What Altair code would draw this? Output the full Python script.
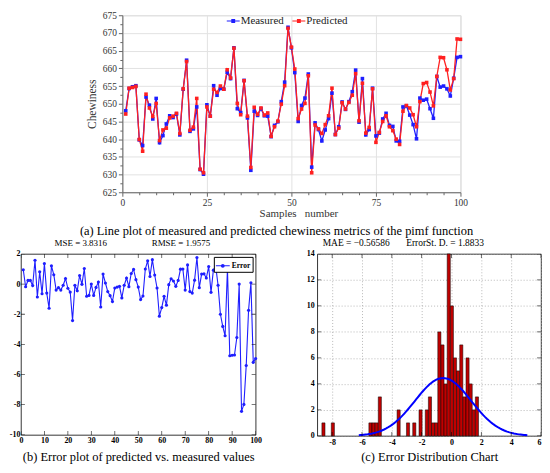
import altair as alt
import pandas as pd

# ---------------- data ----------------
samples = list(range(1, 101))
measured = [648.0, 654.3, 654.8, 655.1, 639.8, 638.2, 651.9, 649.6, 645.7, 651.5,
            639.0, 641.0, 644.3, 646.6, 646.1, 647.1, 641.2, 654.1, 662.3, 642.2,
            642.9, 649.1, 631.4, 630.1, 649.7, 646.5, 655.1, 652.4, 654.3, 654.1,
            658.9, 657.1, 665.8, 648.6, 647.5, 656.6, 646.0, 631.2, 647.9, 646.7,
            648.6, 646.6, 646.5, 640.7, 643.9, 644.9, 650.6, 656.1, 671.6, 665.8,
            658.8, 645.0, 649.5, 651.6, 658.4, 632.1, 644.6, 642.7, 639.5, 642.6,
            645.8, 653.0, 641.3, 643.5, 650.5, 648.4, 650.6, 653.4, 659.5, 644.8,
            657.1, 641.2, 642.7, 654.4, 640.9, 641.7, 645.7, 647.3, 643.9, 643.6,
            639.5, 639.4, 649.1, 649.4, 646.8, 644.1, 640.1, 651.6, 651.0, 651.3,
            648.6, 645.9, 657.7, 654.7, 655.0, 654.2, 652.2, 657.2, 663.1, 663.3]
predicted = [647.1, 654.4, 654.6, 654.9, 639.9, 636.6, 652.7, 648.8, 646.4, 650.1,
             639.6, 642.6, 643.1, 646.0, 646.5, 647.3, 641.6, 654.2, 661.9, 642.5,
             643.4, 651.5, 631.5, 630.5, 649.1, 646.5, 654.1, 653.2, 655.0, 654.1,
             659.6, 657.3, 665.7, 650.1, 646.9, 656.5, 646.5, 632.0, 649.0, 647.0,
             648.8, 646.8, 647.4, 640.8, 643.5, 645.1, 649.9, 655.1, 671.3, 666.0,
             659.8, 645.8, 648.5, 650.1, 657.9, 630.5, 644.0, 642.9, 641.6, 644.1,
             646.6, 654.4, 641.3, 643.1, 650.3, 648.5, 650.4, 652.4, 658.5, 645.2,
             655.8, 641.7, 643.3, 654.2, 639.1, 641.9, 645.0, 646.6, 643.5, 642.4,
             640.0, 638.5, 647.9, 649.5, 648.8, 646.9, 643.5, 650.6, 655.7, 656.0,
             653.3, 649.4, 657.7, 663.1, 663.0, 659.6, 653.9, 657.1, 668.3, 668.2]
error = [0.95, -0.18, 0.24, 0.24, -0.10, 1.58, -0.86, 0.81, -0.64, 1.36,
         -0.60, -1.60, 1.21, 0.62, -0.40, -0.24, -0.40, -0.08, 0.37, -0.28,
         -0.53, -2.42, -0.08, -0.44, 0.57, -0.02, 1.03, -0.81, -0.75, 0.00,
         -0.75, -0.22, 0.13, -1.52, 0.66, 0.07, -0.50, -0.77, -1.16, -0.26,
         -0.20, -0.15, -0.92, -0.08, 0.40, -0.17, 0.70, 0.97, 0.29, -0.20,
         -1.03, -0.79, 1.00, 1.54, 0.50, 1.62, 0.60, -0.26, -2.13, -1.56,
         -0.81, -1.40, -0.04, 0.35, 0.20, -0.15, 0.24, 0.99, 1.00, -0.40,
         1.27, -0.50, -0.60, 0.26, 1.76, -0.24, 0.66, 0.68, 0.40, 1.16,
         -0.55, 0.92, 1.19, -0.08, -2.00, -2.81, -3.43, 1.03, -4.75, -4.72,
         -4.70, -3.54, 0.00, -8.44, -7.98, -5.40, -1.74, 0.09, -5.19, -4.94]
hist_counts = [1, 0, 0, 1, 0, 0, 0, 0, 0, 0,
               0, 0, 0, 0, 0, 1, 1, 1, 3, 0,
               0, 0, 0, 0, 2, 0, 0, 1, 0, 1,
               0, 2, 0, 2, 3, 1, 1, 8, 7, 4,
               14, 10, 6, 5, 7, 3, 6, 4, 2, 3]
hist_lo = -8.69
hist_width = 0.21
err_mean = -0.56586
err_sd = 1.8833
n_samples = 100
mse_text = "MSE = 3.8316"
rmse_text = "RMSE = 1.9575"
mae_text = "MAE = \u22120.56586"
sd_text = "ErrorSt. D. = 1.8833"

x_ticks_a = list(range(0, 101, 5))
y_ticks_a = [625 + 2.5 * i for i in range(21)]
x_ticks_b = list(range(0, 101, 10))
y_ticks_b = list(range(-10, 3, 2))
x_ticks_c = list(range(-8, 7, 2))
y_ticks_c = list(range(0, 15, 2))

caption_a = "(a) Line plot of measured and predicted chewiness metrics of the pimf function"
caption_b = "(b) Error plot of predicted vs. measured values"
caption_c = "(c) Error Distribution Chart"

# ---------------- style ----------------
SERIF = "Liberation Serif"
BLUE = "#1e1eff"
RED = "#ff2020"
BAR_RED = "#c00000"
NB = "\u00a0"
minus_expr = "datum.value < 0 ? '-' + abs(datum.value) : datum.label"
IND = dict(color="independent")

# ---------------- (a) ----------------
df_a = pd.DataFrame({
    "Sample": samples + samples,
    "Value": measured + predicted,
    "Series": ["Measured"] * len(samples) + ["Predicted"] * len(samples),
})

axis_a_x = alt.Axis(
    values=x_ticks_a, labelExpr="datum.value % 25 === 0 ? datum.label : ''",
    labelOverlap=False, labelFlush=False,
    grid=True, gridColor="#e2e2e2",
    gridOpacity={"condition": {"test": "datum.value % 25 === 0", "value": 1}, "value": 0},
    tickSize={"condition": {"test": "datum.value % 25 === 0", "value": 4}, "value": 2.5},
    tickColor="#666", domainColor="#666",
    labelFont=SERIF, labelFontSize=9.5, labelColor="#333", labelPadding=1,
    title="Samples" + NB * 3 + "number", titleFont=SERIF, titleFontSize=11,
    titleFontWeight="normal", titleColor="#333", titlePadding=1, titleX=177,
)
axis_a_y = alt.Axis(
    values=y_ticks_a, labelExpr="datum.value % 5 === 0 ? datum.label : ''",
    labelOverlap=False, labelFlush=False,
    grid=True, gridColor="#e2e2e2",
    gridOpacity={"condition": {"test": "datum.value % 5 === 0", "value": 1}, "value": 0},
    tickSize={"condition": {"test": "datum.value % 5 === 0", "value": 4}, "value": 2.5},
    tickColor="#666", domainColor="#666",
    labelFont=SERIF, labelFontSize=9.5, labelColor="#333", labelPadding=2,
    title="Chewiness", titleFont=SERIF, titleFontSize=11.5,
    titleFontWeight="normal", titleColor="#333", titlePadding=5,
)
sc_a = alt.Scale(domain=["Measured", "Predicted"], range=[BLUE, RED])
xa = alt.X("Sample:Q", scale=alt.Scale(domain=[0, 100], nice=False), axis=axis_a_x)
ya = alt.Y("Value:Q", scale=alt.Scale(domain=[625, 675], nice=False, zero=False), axis=axis_a_y)

legend_a = alt.Legend(
    title=None, orient="none", direction="horizontal", legendX=105, legendY=-1,
    symbolType="M-1,-0.07H1V0.07H-1Z M-0.3,-0.3H0.3V0.3H-0.3Z", symbolSize=169,
    symbolStrokeWidth=0, labelFont=SERIF, labelFontSize=11, labelColor="#222",
    labelOffset=1, columnPadding=8, padding=0,
)
base_a = alt.Chart(df_a)
line_m = base_a.transform_filter("datum.Series === 'Measured'").mark_line(
    color=BLUE, strokeWidth=1.3).encode(x=xa, y=ya)
line_p = base_a.transform_filter("datum.Series === 'Predicted'").mark_line(
    color=RED, strokeWidth=1.3).encode(x=xa, y=ya)
points_a = base_a.mark_point(shape="square", filled=True, size=13, opacity=1).encode(
    x=xa, y=ya, color=alt.Color("Series:N", scale=sc_a, legend=legend_a))
chart_a = alt.layer(line_m, line_p, points_a).properties(
    width=340, height=178,
    title=alt.TitleParams(text=caption_a, orient="bottom", anchor="middle", font=SERIF,
                          fontSize=12.5, fontWeight="normal", color="black", offset=6, dx=-15),
    view=alt.ViewBackground(stroke="#d6d6d6", strokeWidth=1),
)

# invisible spacer that pushes panel (a) to the right
spacer = alt.Chart(pd.DataFrame({"s": [0]})).mark_point(opacity=0).encode(
    x=alt.X("s:Q", axis=None), y=alt.Y("s:Q", axis=None)
).properties(width=54, height=10, view=alt.ViewBackground(strokeOpacity=0))

# ---------------- (b) ----------------
df_b = pd.DataFrame({"Sample": samples, "Error": error, "Kind": ["Error"] * len(samples)})
xb = alt.X("Sample:Q", scale=alt.Scale(domain=[0, 100], nice=False), axis=alt.Axis(
    values=x_ticks_b, grid=False, domain=False, ticks=False, labelFlush=False,
    labelFont=SERIF, labelFontSize=8, labelFontWeight="bold", labelColor="black", labelPadding=2,
    title=caption_b, titleFont=SERIF, titleFontSize=12.5, titleFontWeight="normal",
    titleColor="black", titlePadding=6))
yb = alt.Y("Error:Q", scale=alt.Scale(domain=[-10, 2], nice=False, zero=False), axis=alt.Axis(
    values=y_ticks_b, grid=False, domain=False, ticks=False, labelFlush=False, labelExpr=minus_expr,
    labelFont=SERIF, labelFontSize=8, labelFontWeight="bold", labelColor="black", labelPadding=1,
    title=None))
legend_b = alt.Legend(
    title=None, orient="top-right", offset=3, padding=2, strokeColor="black", fillColor="white",
    cornerRadius=0,
    symbolType="M-1,-0.07H1V0.07H-1Z M0.28,0A0.28,0.28 0 1,1 -0.28,0A0.28,0.28 0 1,1 0.28,0Z",
    symbolSize=196, symbolStrokeWidth=0, labelFont=SERIF, labelFontSize=7.5,
    labelFontWeight="bold", labelColor="black", labelOffset=2,
)
line_b = alt.Chart(df_b).mark_line(color=BLUE, strokeWidth=1.1).encode(x=xb, y=yb)
pts_b = alt.Chart(df_b).mark_point(filled=True, shape="circle", size=10, opacity=1).encode(
    x=xb, y=yb, color=alt.Color("Kind:N", scale=alt.Scale(domain=["Error"], range=[BLUE]),
                                legend=legend_b))
tick_b = []
for yv in [-10, 2]:
    d = pd.DataFrame({"Sample": x_ticks_b, "Error": [yv] * len(x_ticks_b)})
    tick_b.append(alt.Chart(d).mark_tick(orient="vertical", size=8, thickness=0.8,
                                         color="black", clip=True).encode(x=xb, y=yb))
for xv in [0, 100]:
    d = pd.DataFrame({"Sample": [xv] * len(y_ticks_b), "Error": y_ticks_b})
    tick_b.append(alt.Chart(d).mark_tick(orient="horizontal", size=8, thickness=0.8,
                                         color="black", clip=True).encode(x=xb, y=yb))
chart_b = alt.layer(line_b, pts_b, *tick_b).properties(
    width=236, height=182,
    title=alt.TitleParams(text=mse_text + NB * 20 + rmse_text, anchor="middle", font=SERIF,
                          fontSize=9, fontWeight="normal", color="black", offset=2, dx=-6),
    view=alt.ViewBackground(stroke="black", strokeWidth=0.8),
)

# ---------------- (c) ----------------
df_c = pd.DataFrame({
    "x": [hist_lo + k * hist_width for k in range(len(hist_counts))],
    "x2": [hist_lo + (k + 1) * hist_width for k in range(len(hist_counts))],
    "y": hist_counts,
})
xc = alt.X("x:Q", scale=alt.Scale(domain=[-9, 6], nice=False, zero=False), axis=alt.Axis(
    values=x_ticks_c, grid=True, gridDash=[1, 2], gridColor="#9a9a9a", gridWidth=0.7,
    domain=False, ticks=False, labelFlush=True, labelExpr=minus_expr,
    labelFont=SERIF, labelFontSize=8, labelFontWeight="bold", labelColor="black", labelPadding=3,
    title=caption_c, titleFont=SERIF, titleFontSize=12.5, titleFontWeight="normal",
    titleColor="black", titlePadding=4))
yc = alt.Y("y:Q", scale=alt.Scale(domain=[0, 14], nice=False), axis=alt.Axis(
    values=y_ticks_c, grid=True, gridDash=[1, 2], gridColor="#9a9a9a", gridWidth=0.7,
    domain=False, ticks=False, labelFlush=False,
    labelFont=SERIF, labelFontSize=8, labelFontWeight="bold", labelColor="black", labelPadding=3,
    title=None))
bars_c = alt.Chart(df_c).transform_filter("datum.y > 0").mark_rect(
    color=BAR_RED, stroke="black", strokeWidth=0.5, opacity=1).encode(
    x=xc, x2="x2:Q", y=yc, y2=alt.datum(0))
curve_c = alt.Chart(alt.sequence(0, 1.0001, 0.01, as_="t")).transform_calculate(
    x=f"{err_mean} - 3 * {err_sd} + 6 * {err_sd} * datum.t"
).transform_calculate(
    y=f"{n_samples} * {hist_width} * exp(-0.5 * pow((datum.x - ({err_mean})) / {err_sd}, 2)) / ({err_sd} * sqrt(2 * PI))"
).mark_line(color="#0000ff", strokeWidth=2).encode(x=xc, y=yc)
tick_c = []
for yv in [0, 14]:
    d = pd.DataFrame({"x": x_ticks_c, "y": [yv] * len(x_ticks_c)})
    tick_c.append(alt.Chart(d).mark_tick(orient="vertical", size=8, thickness=0.8,
                                         color="black", clip=True).encode(x=xc, y=yc))
for xv in [-9, 6]:
    d = pd.DataFrame({"x": [xv] * len(y_ticks_c), "y": y_ticks_c})
    tick_c.append(alt.Chart(d).mark_tick(orient="horizontal", size=8, thickness=0.8,
                                         color="black", clip=True).encode(x=xc, y=yc))
chart_c = alt.layer(bars_c, curve_c, *tick_c).properties(
    width=225, height=183,
    title=alt.TitleParams(text=mae_text + NB * 7 + sd_text, anchor="middle", font=SERIF,
                          fontSize=9.5, fontWeight="normal", color="black", offset=2, dx=-26),
    view=alt.ViewBackground(stroke="black", strokeWidth=0.8),
)

row_top = alt.hconcat(spacer, chart_a, spacing=4).resolve_scale(**IND)
wrap_b = alt.vconcat(chart_b).resolve_scale(**IND)
wrap_c = alt.vconcat(chart_c).resolve_scale(**IND)
bottom = alt.hconcat(wrap_b, wrap_c, spacing=43).resolve_scale(**IND)
chart = alt.vconcat(row_top, bottom, spacing=0).resolve_scale(**IND).properties(
    padding={"left": 0, "top": 0, "right": 0, "bottom": 0}, background="white"
).configure(font=SERIF)

chart.save("out.html", embed_options={"renderer": "svg", "actions": False})
